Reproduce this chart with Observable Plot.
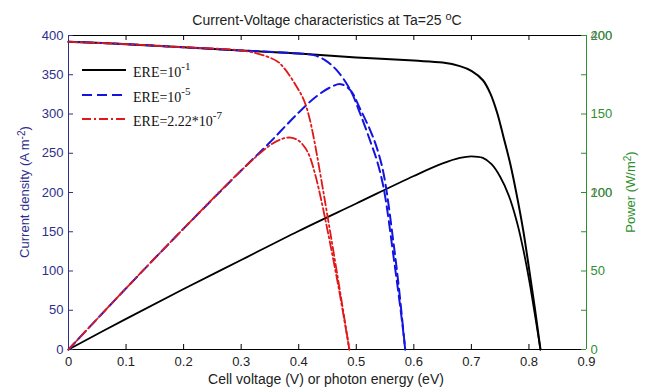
<!DOCTYPE html>
<html><head><meta charset="utf-8">
<script src="https://cdn.jsdelivr.net/npm/d3@7"></script>
<script src="https://cdn.jsdelivr.net/npm/@observablehq/plot@0.6"></script>
<style>body{margin:0;background:#fff} svg{display:block}</style>
</head><body><div id="chart"></div>
<script>
// ---- tick values ----
const xTicks = [0, 0.1, 0.2, 0.3, 0.4, 0.5, 0.6, 0.7, 0.8, 0.9];
const leftTicks = [0, 50, 100, 150, 200, 250, 300, 350, 400];
const rightTicks = [0, 25, 50, 75, 100, 125, 150, 175, 200];
const rightLabels = [0, 50, 100, 150, 200];
const strayLabels = [400, 200];

// ---- series: ERE = 1e-1 (black) ----
const vBlackIV = [0, 0.1, 0.2, 0.3, 0.4, 0.5, 0.6, 0.65, 0.68, 0.70, 0.72, 0.733, 0.745, 0.756, 0.768, 0.779, 0.79, 0.80, 0.81, 0.82];
const iBlack   = [392, 389, 385, 381, 377, 372, 368, 365.5, 361, 355, 343, 326, 301, 270, 235, 196, 152, 104, 54, 0];
const vBlackP  = [0, 0.1, 0.2, 0.3, 0.4, 0.5, 0.6, 0.65, 0.68, 0.70, 0.72, 0.735, 0.75, 0.765, 0.78, 0.79, 0.80, 0.81, 0.82];
const pBlack   = [0, 19.5, 38.5, 57, 75.5, 93, 110.5, 118.5, 122, 123, 122, 118, 110, 98, 80, 64, 45, 23, 0];

// ---- series: ERE = 1e-5 (blue) ----
const vBlueIV = [0, 0.1, 0.2, 0.3, 0.4, 0.426, 0.445, 0.467, 0.49, 0.507, 0.525, 0.537, 0.548, 0.565, 0.58, 0.585];
const iBlue   = [392, 389, 385, 381, 377, 375, 369, 355, 330, 300, 264, 238, 204, 117, 33, 0];
const vBlueP  = [0, 0.1, 0.2, 0.3, 0.35, 0.4, 0.43, 0.455, 0.473, 0.49, 0.507, 0.525, 0.537, 0.548, 0.565, 0.575, 0.585];
const pBlue   = [0, 39, 77, 114, 132, 151, 161, 167, 169, 165, 153, 139, 127, 111, 67, 36, 0];

// ---- series: ERE = 2.22e-7 (red) ----
const vRedIV = [0, 0.1, 0.2, 0.3, 0.333, 0.363, 0.374, 0.386, 0.397, 0.405, 0.412, 0.419, 0.426, 0.435, 0.45, 0.47, 0.488];
const iRed   = [392, 389, 385, 381, 376, 367, 359, 347, 334, 324, 312, 294, 270, 234, 170, 82, 0];
const vRedP  = [0, 0.1, 0.2, 0.3, 0.35, 0.37, 0.386, 0.40, 0.412, 0.419, 0.426, 0.435, 0.45, 0.47, 0.488];
const pRed   = [0, 39, 77, 114, 130, 134, 135, 133, 128, 123, 115, 102, 76, 38, 0];

const navy = "#2e2e8c", green = "#2f8f2f", blue = "#1414e0", red = "#e01818";
const rows = (xs, ys) => xs.map((v, k) => ({v, y: ys[k]}));
// right axis (W/m^2, 0-200) shares the frame with left axis (0-400)
const toLeft = p => p * 2;
const curve = "catmull-rom";

const svg = Plot.plot({
  width: 654, height: 390,
  marginLeft: 68, marginRight: 68, marginTop: 35, marginBottom: 41,
  x: {domain: [0, 0.9]},
  y: {domain: [0, 400]},
  style: {fontFamily: "'Liberation Sans', Arial, sans-serif", fontSize: "13px", background: "white", overflow: "visible"},
  marks: [
    Plot.ruleY([0], {stroke: "#000"}),
    Plot.ruleY([400], {stroke: "#000"}),
    Plot.ruleX(xTicks, {x: d => d, y1: 0, y2: 0, insetTop: -5, stroke: "#000"}),
    Plot.ruleX(xTicks, {x: d => d, y1: 400, y2: 400, insetBottom: -5, stroke: "#000"}),
    Plot.ruleY(leftTicks, {y: d => d, x1: 0, x2: 0, insetRight: -5, stroke: navy}),
    Plot.ruleY(rightTicks, {y: d => toLeft(d), x1: 0.9, x2: 0.9, insetLeft: -5, stroke: green}),
    Plot.ruleX([0], {stroke: navy}),
    Plot.ruleX([0.9], {stroke: green}),
    Plot.axisX(xTicks, {anchor: "bottom", tickSize: 0, tickPadding: 7, tickFormat: d => String(d), label: null, fill: "#222"}),
    Plot.axisY(leftTicks, {anchor: "left", tickSize: 0, tickPadding: 5, label: null, color: navy}),
    Plot.text(strayLabels, {x: 0.9, y: d => d, text: d => String(d), textAnchor: "start", dx: 4, fill: "#444", fillOpacity: 0.7}),
    Plot.axisY(rightLabels.map(toLeft), {anchor: "right", tickSize: 0, tickPadding: 4, tickFormat: d => String(d / 2), label: null, color: green}),
    // Power curves
    Plot.line(rows(vBlackP, pBlack), {x: "v", y: d => toLeft(d.y), stroke: "#000", strokeWidth: 1.8, curve}),
    Plot.line(rows(vBlueP, pBlue), {x: "v", y: d => toLeft(d.y), stroke: blue, strokeWidth: 2, strokeDasharray: "10,5", curve}),
    Plot.line(rows(vRedP, pRed), {x: "v", y: d => toLeft(d.y), stroke: red, strokeWidth: 1.8, strokeDasharray: "9,3,2,3", curve}),
    // I-V curves
    Plot.line(rows(vBlackIV, iBlack), {x: "v", y: "y", stroke: "#000", strokeWidth: 2, curve}),
    Plot.line(rows(vBlueIV, iBlue), {x: "v", y: "y", stroke: blue, strokeWidth: 2, strokeDasharray: "10,5", curve}),
    Plot.line(rows(vRedIV, iRed), {x: "v", y: "y", stroke: red, strokeWidth: 1.8, strokeDasharray: "9,3,2,3", curve})
  ]
});

const s = d3.select(svg);
const sans = "'Liberation Sans', Arial, sans-serif";
// title
const t = s.append("text").attr("x", 327).attr("y", 25).attr("text-anchor", "middle")
  .attr("font-family", sans).attr("font-size", 14).attr("fill", "#222");
t.append("tspan").text("Current-Voltage characteristics at Ta=25 ");
t.append("tspan").attr("dy", -5).attr("font-size", 11).text("o");
t.append("tspan").attr("dy", 5).text("C");
// x label
s.append("text").attr("x", 326).attr("y", 384).attr("text-anchor", "middle")
  .attr("font-family", sans).attr("font-size", 14).attr("fill", "#222")
  .text("Cell voltage (V) or photon energy (eV)");
// left label
const yl = s.append("text").attr("transform", "translate(29,192) rotate(-90)").attr("text-anchor", "middle")
  .attr("font-family", sans).attr("font-size", 13).attr("fill", navy);
yl.append("tspan").text("Current density (A m");
yl.append("tspan").attr("dy", -4).attr("font-size", 10).text("-2");
yl.append("tspan").attr("dy", 4).text(")");
// right label
const yr = s.append("text").attr("transform", "translate(635,192) rotate(-90)").attr("text-anchor", "middle")
  .attr("font-family", sans).attr("font-size", 13).attr("fill", green);
yr.append("tspan").text("Power (W/m");
yr.append("tspan").attr("dy", -4).attr("font-size", 10).text("2");
yr.append("tspan").attr("dy", 4).text(")");

// legend
const legendItems = [
  {stroke: "#000", dash: null, base: "ERE=10", sup: "-1", ly: 70},
  {stroke: blue, dash: "10,5", base: "ERE=10", sup: "-5", ly: 95},
  {stroke: red, dash: "9,3,2,3", base: "ERE=2.22*10", sup: "-7", ly: 119}
];
legendItems.forEach(it => {
  s.append("line").attr("x1", 82).attr("x2", 126).attr("y1", it.ly).attr("y2", it.ly)
    .attr("stroke", it.stroke).attr("stroke-width", 2).attr("stroke-dasharray", it.dash);
  const tx = s.append("text").attr("x", 133).attr("y", it.ly + 7).attr("text-anchor", "start")
    .attr("font-family", "'Liberation Serif', 'Times New Roman', serif").attr("font-size", 14).attr("fill", "#111");
  tx.append("tspan").text(it.base);
  tx.append("tspan").attr("dy", -7).attr("font-size", 11).text(it.sup);
});

document.getElementById("chart").appendChild(svg);
</script>
</body></html>
